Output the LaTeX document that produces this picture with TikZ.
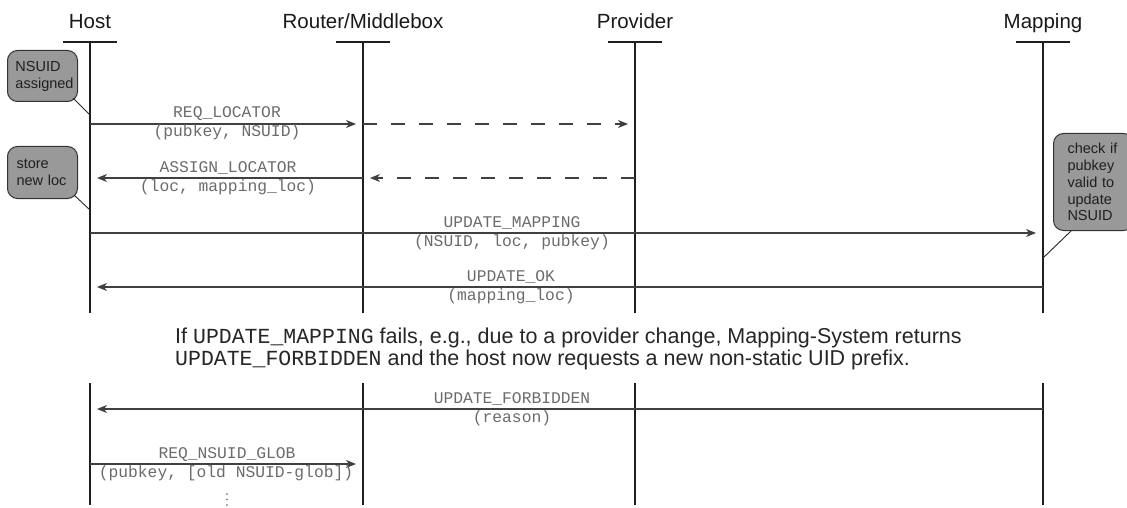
\documentclass[tikz,border=0pt]{standalone}
\usepackage{fontspec}
\setmainfont{Liberation Sans}
\newfontfamily\cour{Liberation Mono}
\usetikzlibrary{arrows.meta}
\begin{document}
\begin{tikzpicture}[x=1pt,y=-1pt,
  lifeline/.style={draw=black!88, line width=2.6pt},
  headbar/.style={draw=black!88, line width=2.6pt},
  title/.style={font=\fontsize{20.5}{24}\selectfont, text=black!90, inner sep=0, anchor=base},
  msg/.style={draw=black!75, line width=1.2pt, -{Stealth[length=10pt,width=8pt,inset=3pt]}, shorten >=7pt},
  dmsg/.style={msg, dash pattern=on 14pt off 14pt},
  lbl/.style={font=\cour\fontsize{16.3}{18}\selectfont, text=black!58, inner sep=0, anchor=base},
  note/.style={draw=black!80, fill=black!40, rounded corners=10pt, line width=1pt,
     align=left, font=\fontsize{14.5}{16.9}\selectfont, text=black!88, anchor=north west},
  tail/.style={draw=black!85, line width=0.9pt},
  dotmark/.style={fill=black!65, circle, inner sep=0, minimum size=1.8pt},
  para/.style={font=\fontsize{21.5}{22}\selectfont, text=black!85, inner sep=0, anchor=base west}
]
\useasboundingbox (0,0) rectangle (1127,508);

% titles
\node[title] (tH) at (90,29) {Host};
\node[title] (tR) at (363,29) {Router/Middlebox};
\node[title] (tP) at (635,29) {Provider};
\node[title] (tM) at (1043,29) {Mapping};

% lifeline coordinates
\foreach \n/\x in {H/90,R/363,P/635,M/1043}{
  \coordinate (\n top) at (\x,42);
  \coordinate (\n bot) at (\x,313);
  \coordinate (\n top2) at (\x,383);
  \coordinate (\n bot2) at (\x,505);
  \coordinate (\n barL) at (\x-27,42);
  \coordinate (\n barR) at (\x+27,42);
  \draw[headbar] (\n barL) -- (\n barR);
  \draw[lifeline] (\n top) -- (\n bot);
  \draw[lifeline] (\n top2) -- (\n bot2);
}

% message coordinates
\foreach \n/\x in {H/90,R/363,P/635,M/1043}{
  \coordinate (\n1) at (\x,124);
  \coordinate (\n2) at (\x,178);
  \coordinate (\n3) at (\x,233);
  \coordinate (\n4) at (\x,287);
  \coordinate (\n5) at (\x,409);
  \coordinate (\n6) at (\x,464);
}

% messages
\draw[msg] (H1) -- (R1);
\draw[dmsg] (R1) -- (P1);
\node[lbl] (l1a) at (227,118) {REQ\_LOCATOR};
\node[lbl] (l1b) at (227,137) {(pubkey, NSUID)};

\draw[msg] (R2) -- (H2);
\draw[dmsg] (P2) -- (R2);
\node[lbl] (l2a) at (228,172) {ASSIGN\_LOCATOR};
\node[lbl] (l2b) at (228,191) {(loc, mapping\_loc)};

\draw[msg] (H3) -- (M3);
\node[lbl] (l3a) at (512,227) {UPDATE\_MAPPING};
\node[lbl] (l3b) at (512,246) {(NSUID, loc, pubkey)};

\draw[msg] (M4) -- (H4);
\node[lbl] (l4a) at (511,281) {UPDATE\_OK};
\node[lbl] (l4b) at (511,300) {(mapping\_loc)};

\draw[msg] (M5) -- (H5);
\node[lbl] (l5a) at (512,403) {UPDATE\_FORBIDDEN};
\node[lbl] (l5b) at (512,422) {(reason)};

\draw[msg] (H6) -- (R6);
\node[lbl] (l6a) at (227,458) {REQ\_NSUID\_GLOB};
\node[lbl] (l6b) at (226,477) {(pubkey, [old NSUID-glob])};
% continuation dots
\node[dotmark] (d1) at (227,494) {};
\node[dotmark] (d2) at (227,499.5) {};
\node[dotmark] (d3) at (227,505) {};

% notes
\node[note, minimum width=70pt, minimum height=51pt, text width=54pt, inner xsep=8pt] (n1) at (7,50) {NSUID\\assigned};
\coordinate (n1t) at (90,115);
\draw[tail] ([xshift=-5pt,yshift=4pt]n1.south east) -- (n1t);

\node[note, minimum width=70pt, minimum height=52pt, text width=52pt, inner xsep=9pt] (n2) at (7,146) {store\\new loc};
\coordinate (n2t) at (90,210);
\draw[tail] ([xshift=-4pt,yshift=4pt]n2.south east) -- (n2t);

\node[note, minimum width=73pt, minimum height=97pt, text width=52pt, inner xsep=14pt] (n3) at (1053,133) {check if\\pubkey\\valid to\\update\\NSUID};
\coordinate (n3t) at (1043,258);
\draw[tail] ([xshift=18pt]n3.south west) -- (n3t);

% paragraph
\node[para] (p1) at (175,343) {If {\cour UPDATE\_MAPPING} fails, e.g., due to a provider change, Mapping-System returns};
\node[para] (p2) at (175,365) {{\cour UPDATE\_FORBIDDEN} and the host now requests a new non-static UID prefix.};
\end{tikzpicture}
\end{document}
